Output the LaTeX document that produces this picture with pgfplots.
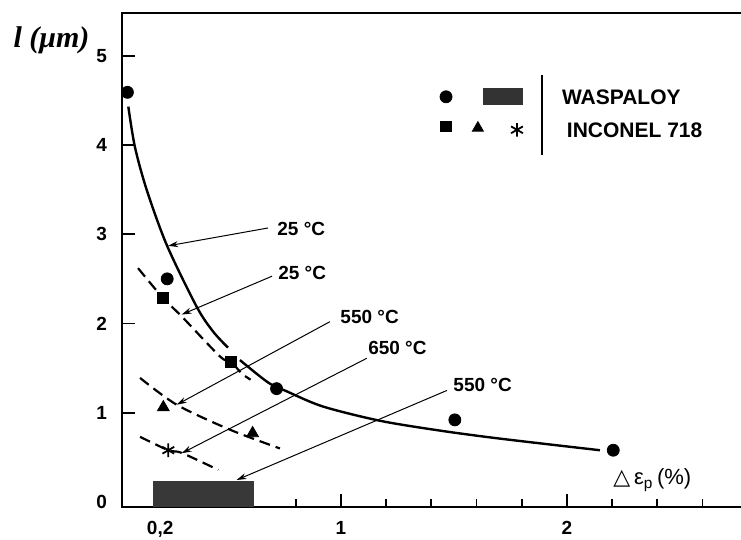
\documentclass[border=0pt]{standalone}
\usepackage{fontspec}
\setmainfont{Liberation Sans}
\newfontfamily\timesf{Liberation Serif}
\newfontfamily\dejavu{DejaVu Sans}
\usepackage{pgfplots}
\pgfplotsset{compat=1.18}
\usetikzlibrary{arrows.meta}

\begin{document}
\begin{tikzpicture}
\useasboundingbox (0,0) rectangle (370.5pt,270pt);
\begin{axis}[
  at={(61pt,16.5pt)}, anchor=south west,
  scale only axis, width=311.5pt, height=247pt,
  xmin=0.031, xmax=2.788, ymin=-0.056, ymax=5.479,
  axis line style={line width=1.4pt},
  tick style={line width=0.9pt, black},
  tick pos=left, tick align=inside,
  xtick={0.2,1,2}, xticklabels={{0,2},1,2},
  minor xtick={0.4,0.6,0.8,1.2,1.4,1.6,1.8,2.2,2.4,2.6},
  ytick={1,2,3,4,5}, yticklabels={1,2,3,4,5},
  extra y ticks={0}, extra y tick labels={0},
  extra y tick style={major tick length=0pt},
  major tick length=6.5pt, minor tick length=4pt,
  ticklabel style={font=\bfseries\fontsize{9.5}{10}\selectfont},
  yticklabel style={xshift=-4pt},
  xticklabel style={yshift=-3.5pt},
  clip=false,
]
% Waspaloy 550 C band
\addplot[draw=none, fill=black!78] coordinates {(0.168,-0.056) (0.168,0.235) (0.615,0.235) (0.615,-0.056)} --cycle;

% Waspaloy 25 C curve (solid)
\addplot[line width=1.2pt, smooth] coordinates {
 (0.059,4.43) (0.088,3.98) (0.140,3.50) (0.229,2.88) (0.361,2.19) (0.434,1.91) (0.500,1.73)};
\addplot[line width=1.2pt, smooth] coordinates {
 (0.553,1.59) (0.677,1.34) (0.760,1.24) (0.920,1.07) (1.173,0.91) (1.438,0.80) (1.704,0.71) (2.146,0.58)};

% Inconel 718 curves (dashed)
\addplot[line width=1.1pt, dash pattern=on 5.5pt off 3pt, smooth] coordinates {
 (0.102,2.62) (0.211,2.29) (0.295,2.08) (0.465,1.63) (0.513,1.57) (0.561,1.44) (0.600,1.37)};
\addplot[line width=1.1pt, dash pattern=on 5.5pt off 3pt, smooth] coordinates {
 (0.111,1.39) (0.273,1.09) (0.509,0.81) (0.730,0.60)};
\addplot[line width=1.1pt, dash pattern=on 5.5pt off 3pt, smooth] coordinates {
 (0.111,0.73) (0.236,0.58) (0.295,0.55) (0.457,0.36)};

% data points
\addplot[only marks, mark=*, mark size=3pt, black] coordinates {
 (0.055,4.59) (0.231,2.50) (0.715,1.27) (1.504,0.92) (2.205,0.58)};
\addplot[only marks, mark=square*, mark size=2.8pt, black] coordinates {
 (0.211,2.29) (0.513,1.57)};
\addplot[only marks, mark=triangle*, mark size=3.4pt, black] coordinates {
 (0.214,1.06) (0.609,0.77)};
\addplot[only marks, mark=asterisk, mark size=3.4pt, black, line width=0.9pt] coordinates {
 (0.236,0.58)};

% legend symbols
\addplot[only marks, mark=*, mark size=3pt, black] coordinates {(1.465,4.54)};
\addplot[draw=none, fill=black!80] coordinates {(1.628,4.45) (1.628,4.64) (1.805,4.64) (1.805,4.45)} --cycle;
\addplot[only marks, mark=square*, mark size=2.6pt, black] coordinates {(1.465,4.21)};
\addplot[only marks, mark=triangle*, mark size=3.2pt, black] coordinates {(1.606,4.19)};
\addplot[only marks, mark=asterisk, mark size=3.4pt, black, line width=0.9pt] coordinates {(1.779,4.17)};
\addplot[line width=0.9pt] coordinates {(1.888,4.78) (1.888,3.89)};
\node[anchor=west, font=\bfseries\fontsize{10.5}{12}\selectfont] at (axis cs:1.947,4.54) {WASPALOY};
\node[anchor=west, font=\bfseries\fontsize{10.5}{12}\selectfont] at (axis cs:1.969,4.17) {INCONEL 718};

% annotations
\begin{scope}[line width=0.5pt, -{Stealth[length=5pt,width=3pt]}]
\draw (axis cs:0.677,3.07) -- (axis cs:0.235,2.87);
\draw (axis cs:0.695,2.53) -- (axis cs:0.295,2.10);
\draw (axis cs:0.951,2.02) -- (axis cs:0.273,1.09);
\draw (axis cs:1.114,1.61) -- (axis cs:0.295,0.546);
\draw (axis cs:1.469,1.25) -- (axis cs:0.538,0.246);
\end{scope}
\begin{scope}[every node/.style={anchor=west, font=\bfseries\fontsize{9.5}{11}\selectfont, inner sep=0pt}]
\node at (axis cs:0.717,3.06) {25 °C};
\node at (axis cs:0.721,2.57) {25 °C};
\node at (axis cs:0.996,2.07) {550 °C};
\node at (axis cs:1.119,1.73) {650 °C};
\node at (axis cs:1.496,1.31) {550 °C};
\end{scope}
\node[anchor=west, inner sep=0pt, font=\fontsize{11}{12}\selectfont] at (axis cs:2.204,0.246) {{\dejavu △}\,ε\textsubscript{p}\,(\%)};
\end{axis}
\node[font=\timesf\bfseries\itshape\fontsize{15}{16}\selectfont] at (25.75pt,250pt) {l (μm)};
\end{tikzpicture}
\end{document}
